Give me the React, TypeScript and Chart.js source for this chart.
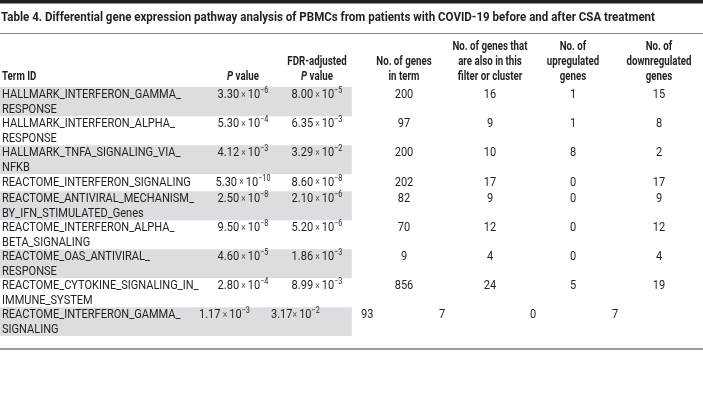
import React, { useEffect, useRef } from "react";
import { Chart, registerables } from "chart.js";

Chart.register(...registerables);

// ---------------- data ----------------
const tableTitle =
  "Table 4. Differential gene expression pathway analysis of PBMCs from patients with COVID-19 before and after CSA treatment";

const headerTerm = ["Term ID"];
const headerP = ["|P| value"];
const headerFdr = ["FDR-adjusted", "|P| value"];
const headerGenesInTerm = ["No. of genes", "in term"];
const headerGenesInFilter = ["No. of genes that", "are also in this", "filter or cluster"];
const headerUp = ["No. of", "upregulated", "genes"];
const headerDown = ["No. of", "downregulated", "genes"];

const termIds: string[][] = [
  ["HALLMARK_INTERFERON_GAMMA_", "RESPONSE"],
  ["HALLMARK_INTERFERON_ALPHA_", "RESPONSE"],
  ["HALLMARK_TNFA_SIGNALING_VIA_", "NFKB"],
  ["REACTOME_INTERFERON_SIGNALING"],
  ["REACTOME_ANTIVIRAL_MECHANISM_", "BY_IFN_STIMULATED_Genes"],
  ["REACTOME_INTERFERON_ALPHA_", "BETA_SIGNALING"],
  ["REACTOME_OAS_ANTIVIRAL_", "RESPONSE"],
  ["REACTOME_CYTOKINE_SIGNALING_IN_", "IMMUNE_SYSTEM"],
  ["REACTOME_INTERFERON_GAMMA_", "SIGNALING"],
];
const pMantissa = ["3.30", "5.30", "4.12", "5.30", "2.50", "9.50", "4.60", "2.80", "1.17"];
const pExponent = ["−6", "−4", "−3", "−10", "−8", "−8", "−5", "−4", "−3"];
const fdrMantissa = ["8.00", "6.35", "3.29", "8.60", "2.10", "5.20", "1.86", "8.99", "3.17"];
const fdrExponent = ["−5", "−3", "−2", "−8", "−6", "−6", "−3", "−3", "−2"];
const genesInTerm = [200, 97, 200, 202, 82, 70, 9, 856, 93];
const genesInFilter = [16, 9, 10, 17, 9, 12, 4, 24, 7];
const upregulated = [1, 1, 8, 0, 0, 0, 0, 5, 0];
const downregulated = [15, 8, 2, 17, 9, 12, 4, 19, 7];
// the last row of the source table is typeset left-aligned (and the FDR value with no space before ×)
const leftAlignedRows = [8];
const tightTimesRows = [8];

// ---------------- layout / style ----------------
const W = 703;
const H = 400;
const HEADER_BOTTOM = 87;
const TABLE_BOTTOM = 336;
const ROW_LINE = 12;
const ROW_PAD = 5;
const TEXT = "#231f20";
const STRIPE = "#dcdde0";
const FONT = "Roboto, 'Noto Sans', sans-serif";
const colCenters = [0, 243, 317, 404, 490, 573, 659];
const colLefts = [2, 199, 271, 361, 439, 530, 612];

const rowWeights = termIds.map((t) => t.length * ROW_LINE + ROW_PAD);

type Piece = { text: string; font: string; dy: number; color?: string };

function measurePieces(ctx: CanvasRenderingContext2D, pieces: Piece[]) {
  let w = 0;
  for (const p of pieces) {
    ctx.font = p.font;
    w += ctx.measureText(p.text).width;
  }
  return w;
}

function drawPieces(
  ctx: CanvasRenderingContext2D,
  pieces: Piece[],
  x: number,
  y: number,
  align: "left" | "center",
  sx: number
) {
  const w = measurePieces(ctx, pieces) * sx;
  const start = align === "center" ? x - w / 2 : x;
  ctx.save();
  ctx.translate(start, y);
  ctx.scale(sx, 1);
  ctx.textAlign = "left";
  ctx.textBaseline = "middle";
  let cx = 0;
  for (const p of pieces) {
    ctx.font = p.font;
    ctx.fillStyle = p.color || TEXT;
    ctx.fillText(p.text, cx, p.dy);
    cx += ctx.measureText(p.text).width;
  }
  ctx.restore();
}

const bodyFont = `13px ${FONT}`;
const headFont = `bold 12.5px ${FONT}`;
const headItalic = `italic bold 12.5px ${FONT}`;
const titleFont = `bold 13.5px ${FONT}`;

function headerPieces(line: string): Piece[] {
  const m = line.match(/^\|(.+?)\|(.*)$/);
  if (m) {
    return [
      { text: m[1], font: headItalic, dy: 0 },
      { text: m[2], font: headFont, dy: 0 },
    ];
  }
  return [{ text: line, font: headFont, dy: 0 }];
}

function sciPieces(mant: string, exp: string, tight: boolean): Piece[] {
  return [
    { text: mant, font: bodyFont, dy: 0 },
    { text: tight ? "× " : " × ", font: `10px ${FONT}`, dy: 0, color: "#555" },
    { text: "10", font: bodyFont, dy: 0 },
    { text: exp, font: `8.5px ${FONT}`, dy: -4 },
  ];
}

const tablePlugin = {
  id: "tableText",
  beforeDraw(chart: any) {
    const ctx: CanvasRenderingContext2D = chart.ctx;
    ctx.save();
    ctx.fillStyle = "#fff";
    ctx.fillRect(0, 0, chart.width, chart.height);
    ctx.restore();
  },
  afterDatasetsDraw(chart: any) {
    const ctx: CanvasRenderingContext2D = chart.ctx;
    const area = chart.chartArea;
    const yScale = chart.scales.y;

    // top rule and lines
    ctx.save();
    ctx.fillStyle = TEXT;
    ctx.fillRect(0, 0, chart.width, 3.5);
    ctx.fillStyle = "#8a8a8a";
    ctx.fillRect(0, 33, chart.width, 1);
    ctx.fillStyle = "#9a9a9a";
    ctx.fillRect(0, 348, chart.width, 2);
    ctx.restore();

    // title
    ctx.font = titleFont;
    const tw = ctx.measureText(tableTitle).width;
    drawPieces(ctx, [{ text: tableTitle, font: titleFont, dy: 0 }], 1, 18, "left", 654 / tw);

    // scale factors to mimic the condensed face
    ctx.font = headFont;
    const hsx = 75 / ctx.measureText("No. of genes that").width;
    ctx.font = bodyFont;
    const bsx = 179 / ctx.measureText("HALLMARK_INTERFERON_GAMMA_").width;

    // headers
    const headers = [headerTerm, headerP, headerFdr, headerGenesInTerm, headerGenesInFilter, headerUp, headerDown];
    headers.forEach((lines, c) => {
      lines.forEach((line, k) => {
        const y = 77 - (lines.length - 1 - k) * 15;
        if (c === 0) drawPieces(ctx, headerPieces(line), colLefts[0], y, "left", hsx);
        else drawPieces(ctx, headerPieces(line), colCenters[c], y, "center", hsx);
      });
    });

    // body rows
    let cum = 0;
    termIds.forEach((lines, i) => {
      const top = yScale.getPixelForValue(cum);
      const bottom = yScale.getPixelForValue(cum + rowWeights[i]);
      cum += rowWeights[i];
      const first = lines.length === 1 ? (top + bottom) / 2 : top + 8;
      lines.forEach((line, k) => {
        drawPieces(ctx, [{ text: line, font: bodyFont, dy: 0 }], area.left + colLefts[0], first + k * 14.5, "left", bsx);
      });
      const tight = tightTimesRows.includes(i);
      const cells: Piece[][] = [
        sciPieces(pMantissa[i], pExponent[i], false),
        sciPieces(fdrMantissa[i], fdrExponent[i], tight),
        [{ text: String(genesInTerm[i]), font: bodyFont, dy: 0 }],
        [{ text: String(genesInFilter[i]), font: bodyFont, dy: 0 }],
        [{ text: String(upregulated[i]), font: bodyFont, dy: 0 }],
        [{ text: String(downregulated[i]), font: bodyFont, dy: 0 }],
      ];
      const leftAligned = leftAlignedRows.includes(i);
      cells.forEach((p, j) => {
        const c = j + 1;
        if (leftAligned) drawPieces(ctx, p, area.left + colLefts[c], first, "left", bsx);
        else drawPieces(ctx, p, area.left + colCenters[c], first, "center", bsx);
      });
    });
  },
};

export default function App() {
  const ref = useRef<HTMLCanvasElement | null>(null);
  useEffect(() => {
    if (!ref.current) return;
    const datasets = termIds.map((_, i) => ({
      label: `row${i + 1}`,
      data: [rowWeights[i]],
      backgroundColor: i % 2 === 0 ? STRIPE : "#ffffff",
      borderWidth: 0,
      stack: "rows",
      barPercentage: 1,
      categoryPercentage: 1,
    }));
    const chart = new Chart(ref.current, {
      type: "bar",
      data: { labels: ["table"], datasets },
      options: {
        animation: false,
        responsive: false,
        events: [],
        layout: { padding: { top: HEADER_BOTTOM, bottom: H - TABLE_BOTTOM, left: 0, right: 0 } },
        plugins: { legend: { display: false }, tooltip: { enabled: false }, title: { display: false } },
        scales: {
          x: { display: false, stacked: true, offset: false, grid: { display: false } },
          y: {
            display: false,
            stacked: true,
            reverse: true,
            min: 0,
            max: rowWeights.reduce((a, b) => a + b, 0),
            grid: { display: false },
          },
        },
      },
      plugins: [tablePlugin],
    });
    return () => chart.destroy();
  }, []);
  return (
    <div style={{ position: "fixed", left: 0, top: 0, width: W, height: H, background: "#fff" }}>
      <canvas ref={ref} width={W} height={H} style={{ width: W, height: H, display: "block" }} />
    </div>
  );
}
